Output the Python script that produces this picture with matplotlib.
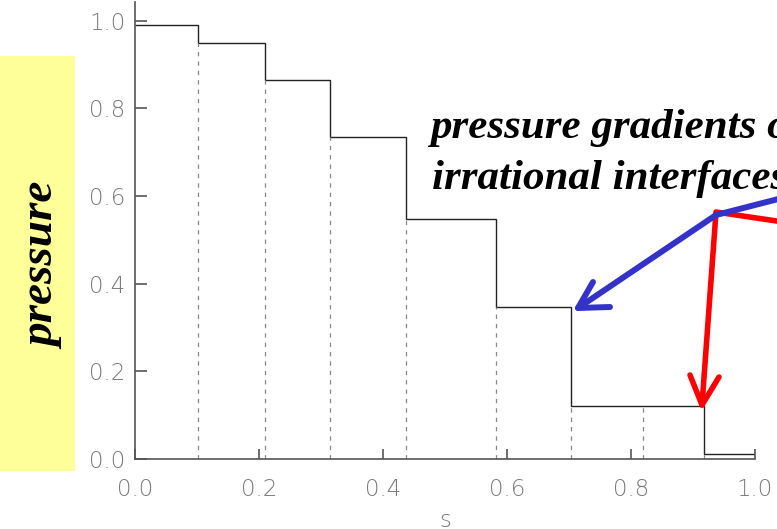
import matplotlib
matplotlib.use("Agg")
import matplotlib.pyplot as plt
from matplotlib.lines import Line2D
from matplotlib.patches import Rectangle

# cell boundaries in s and the pressure level in each cell
edges = [0.0, 0.1016, 0.209, 0.3145, 0.4376, 0.5818, 0.703, 0.819, 0.918, 1.0]
pressure = [0.990, 0.949, 0.865, 0.734, 0.547, 0.346, 0.121, 0.122, 0.011]
ticks = [0.0, 0.2, 0.4, 0.6, 0.8, 1.0]
tick_labels = ["0.0", "0.2", "0.4", "0.6", "0.8", "1.0"]

W, H = 777, 529
fig = plt.figure(figsize=(W / 100, H / 100), dpi=100)


def px(x, y):
    """pixel position (from top-left) -> figure fraction"""
    return x / W, 1 - y / H


ax = fig.add_axes([135 / W, 70 / H, 620 / W, 457 / H])
ax.set_xlim(0, 1.0)
ax.set_ylim(0, 457 / 438.5)

ax.stairs(pressure, edges, baseline=None, color="#222222", lw=1.0)
lower = [min(a, b) for a, b in zip(pressure[:-1], pressure[1:])]
ax.vlines(edges[1:-1], 0, lower, colors="#888888", lw=0.9,
          linestyles=(0, (3.5, 4)))

for side in ("top", "right"):
    ax.spines[side].set_visible(False)
for side in ("left", "bottom"):
    ax.spines[side].set_color("#555555")
    ax.spines[side].set_linewidth(1.2)

grey = "#7a7a7a"
ax.set_xticks(ticks)
ax.set_yticks(ticks)
ax.set_xticklabels(tick_labels)
ax.set_yticklabels(tick_labels)
ax.tick_params(axis="both", direction="in", colors="#555555", width=1.2,
               labelcolor=grey, labelsize=16.5)
ax.tick_params(axis="y", length=8.5, pad=7)
ax.tick_params(axis="x", length=7, pad=13.5)
for lab in ax.get_xticklabels() + ax.get_yticklabels():
    lab.set_fontweight("light")
ax.set_xlabel("s", fontsize=16.5, color=grey, fontweight="light", labelpad=6)

# yellow label panel on the left
x0, y1 = px(0, 471)
x1, y0 = px(75, 56)
fig.patches.append(Rectangle((x0, y1), x1 - x0, y0 - y1, transform=fig.transFigure,
                             facecolor="#FFFF99", edgecolor="none", zorder=0))
fig.text(*px(44, 266), "pressure", rotation=90, ha="center", va="center",
         family="Liberation Serif", fontsize=34, fontweight="bold",
         style="italic", color="black")

# callout text, running off the right edge of the slide
fig.text(*px(430, 138), "pressure gradients on", ha="left", va="baseline",
         family="Liberation Serif", fontsize=31, fontweight="bold",
         style="italic", color="black")
fig.text(*px(432, 189), "irrational interfaces", ha="left", va="baseline",
         family="Liberation Serif", fontsize=31, fontweight="bold",
         style="italic", color="black")


def stroke(points, color, lw):
    xs, ys = zip(*[px(x, y) for x, y in points])
    fig.lines.append(Line2D(xs, ys, transform=fig.transFigure, color=color,
                            lw=lw, solid_capstyle="round",
                            solid_joinstyle="round", zorder=5))


# red arrow (drawn first, blue sits on top)
stroke([(790, 223), (716, 212), (702, 405)], "#FF0000", 4.0)
stroke([(690, 375), (702, 405), (719, 377)], "#FF0000", 4.0)
# blue arrow
stroke([(790, 196), (716, 215), (578, 308)], "#3333CC", 4.3)
stroke([(593, 282), (578, 308), (610, 307)], "#3333CC", 4.3)

fig.savefig("out.png", dpi=100, facecolor="white")
